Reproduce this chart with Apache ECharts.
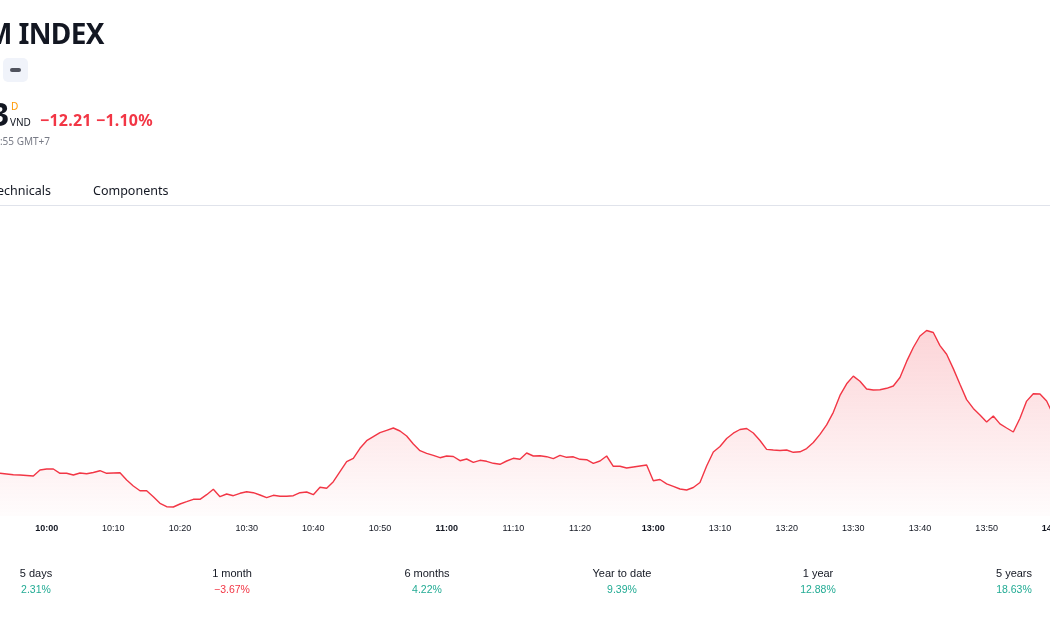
<!DOCTYPE html>
<html>
<head>
<meta charset="utf-8">
<title>VN INDEX</title>
<script src="https://cdn.jsdelivr.net/npm/echarts@6/dist/echarts.min.js"></script>
<style>
  html, body { margin: 0; padding: 0; width: 1050px; height: 630px; overflow: hidden; background: #fff; }
  body { position: relative; font-family: "Noto Sans", "DejaVu Sans", sans-serif; color: #131722; }
  .abs { position: absolute; white-space: nowrap; }
  #chart { position: absolute; left: 0; top: 0; width: 1100px; height: 630px; z-index: 0; }
  .hdr { z-index: 2; }
  .period { position: absolute; top: 565px; width: 120px; text-align: center; font-family: "Liberation Sans", sans-serif; z-index: 2; }
  .period .lbl { font-size: 11px; color: #131722; line-height: 16px; }
  .period .val { font-size: 10.5px; line-height: 16px; }
  .up { color: #22ab94; }
  .down { color: #f23645; }
</style>
</head>
<body>
<div id="chart"></div>

<!-- header, cut off at the left like the screenshot -->
<div class="abs hdr" style="right:946px;top:14px;font-size:28px;font-weight:700;letter-spacing:-0.6px;">VIETNAM INDEX</div>
<div class="abs hdr" style="left:3px;top:58px;width:25px;height:24px;border-radius:5px;background:#f0f3fa;">
  <div style="position:absolute;left:7px;top:10px;width:11px;height:4px;border-radius:2px;background:#50535e;"></div>
</div>
<div class="abs hdr" style="right:1041px;top:92px;font-size:32px;font-weight:700;">1,097.83</div>
<div class="abs hdr" style="left:11px;top:99px;font-size:10px;color:#ff9800;">D</div>
<div class="abs hdr" style="left:10px;top:115px;font-size:10px;">VND</div>
<div class="abs hdr" style="left:40px;top:109px;font-size:16px;font-weight:700;color:#f23645;letter-spacing:0.2px;">−12.21 −1.10%</div>
<div class="abs hdr" style="right:1000px;top:134px;font-size:10px;color:#787b86;">At close at 14:44:55 GMT+7</div>
<div class="abs hdr" style="right:999px;top:182px;font-size:12.5px;">Overview&nbsp;&nbsp;&nbsp;&nbsp;Technicals</div>
<div class="abs hdr" style="left:93px;top:182px;font-size:12.5px;">Components</div>
<div class="abs hdr" style="left:0;top:205px;width:1050px;height:1px;background:#e0e3eb;"></div>

<div class="period" style="left:-24px;"><div class="lbl">5 days</div><div class="val up">2.31%</div></div>
<div class="period" style="left:172px;"><div class="lbl">1 month</div><div class="val down">−3.67%</div></div>
<div class="period" style="left:367px;"><div class="lbl">6 months</div><div class="val up">4.22%</div></div>
<div class="period" style="left:562px;"><div class="lbl">Year to date</div><div class="val up">9.39%</div></div>
<div class="period" style="left:758px;"><div class="lbl">1 year</div><div class="val up">12.88%</div></div>
<div class="period" style="left:954px;"><div class="lbl">5 years</div><div class="val up">18.63%</div></div>

<script>
// minute bars visible in the screenshot: 09:53 - 11:30, then 13:00 - 14:00 (lunch break skipped)
const sessions = [['09:53', '11:30'], ['13:00', '14:00']];
const times = [];
sessions.forEach(function (s) {
  let [h, m] = s[0].split(':').map(Number);
  const [eh, em] = s[1].split(':').map(Number);
  while (h * 60 + m <= eh * 60 + em) {
    times.push(String(h).padStart(2, '0') + ':' + String(m).padStart(2, '0'));
    m++;
    if (m === 60) { m = 0; h++; }
  }
});
// tick labels that are shown on the time axis
const tickLabels = ['10:00', '10:10', '10:20', '10:30', '10:40', '10:50', '11:00', '11:10', '11:20',
  '13:00', '13:10', '13:20', '13:30', '13:40', '13:50', '14:00'];
const boldLabels = ['10:00', '11:00', '13:00', '14:00'];

// index value per minute
const prices = [
  1094.27, 1094.20, 1094.13, 1094.10, 1094.05, 1094.00, 1094.60, 1094.70, 1094.70, 1094.27,
  1094.27, 1094.10, 1094.30, 1094.23, 1094.35, 1094.53, 1094.27, 1094.30, 1094.33, 1093.60,
  1093.00, 1092.53, 1092.53, 1091.93, 1091.27, 1090.93, 1090.90, 1091.20, 1091.43, 1091.67,
  1091.67, 1092.13, 1092.67, 1091.93, 1092.20, 1092.03, 1092.27, 1092.43, 1092.33, 1092.10,
  1091.83, 1092.07, 1091.97, 1091.97, 1092.03, 1092.33, 1092.40, 1092.13, 1092.87, 1092.77,
  1093.43, 1094.43, 1095.43, 1095.77, 1096.77, 1097.53, 1097.93, 1098.33, 1098.57, 1098.80,
  1098.50, 1098.00, 1097.20, 1096.53, 1096.27, 1096.07, 1095.83, 1096.00, 1095.95, 1095.53,
  1095.70, 1095.37, 1095.57, 1095.47, 1095.27, 1095.17, 1095.50, 1095.77, 1095.67, 1096.30,
  1096.00, 1096.03, 1095.93, 1095.73, 1096.07, 1095.87, 1095.92, 1095.67, 1095.63, 1095.27,
  1095.50, 1096.00, 1094.97, 1094.97, 1094.80, 1094.90, 1095.00, 1095.10,
  1093.53, 1093.65, 1093.22, 1092.97, 1092.70, 1092.60, 1092.85, 1093.35, 1095.00, 1096.40,
  1096.95, 1097.75, 1098.28, 1098.65, 1098.75, 1098.30, 1097.55, 1096.66, 1096.60, 1096.55,
  1096.60, 1096.37, 1096.42, 1096.74, 1097.35, 1098.16, 1099.11, 1100.37, 1102.06, 1103.22,
  1103.99, 1103.48, 1102.70, 1102.60, 1102.63, 1102.77, 1103.00, 1103.85, 1105.46, 1106.85,
  1108.00, 1108.55, 1108.35, 1107.04, 1106.17, 1104.74, 1103.18, 1101.64, 1100.76, 1100.11,
  1099.40, 1100.00, 1099.21, 1098.80, 1098.40, 1099.78, 1101.49, 1102.23, 1102.20, 1101.50,
  1100.10
];

const lineColor = '#f23645';

let myChart = echarts.init(document.getElementById('chart'));
myChart.setOption({
  animation: false,
  grid: { left: 0, right: 46.7, top: 216, bottom: 114 },
  xAxis: {
    type: 'category',
    data: times,
    boundaryGap: false,
    axisLine: { show: false },
    axisTick: { show: false },
    splitLine: { show: false },
    axisLabel: {
      margin: 8,
      fontSize: 9,
      fontFamily: 'Liberation Sans',
      color: '#131722',
      hideOverlap: false,
      interval: function (idx, val) { return tickLabels.indexOf(val) >= 0; },
      formatter: function (val) {
        return boldLabels.indexOf(val) >= 0 ? '{b|' + val + '}' : val;
      },
      rich: {
        b: { fontSize: 9, fontWeight: 'bold', fontFamily: 'Liberation Sans', color: '#131722' }
      }
    }
  },
  yAxis: {
    type: 'value',
    min: 1090,
    max: 1120,
    show: false
  },
  series: [{
    type: 'line',
    data: prices,
    symbol: 'none',
    smooth: false,
    lineStyle: { color: lineColor, width: 1.4 },
    areaStyle: {
      color: new echarts.graphic.LinearGradient(0, 0, 0, 1, [
        { offset: 0, color: 'rgba(242,54,69,0.30)' },
        { offset: 1, color: 'rgba(242,54,69,0.02)' }
      ])
    }
  }]
});
</script>
</body>
</html>
